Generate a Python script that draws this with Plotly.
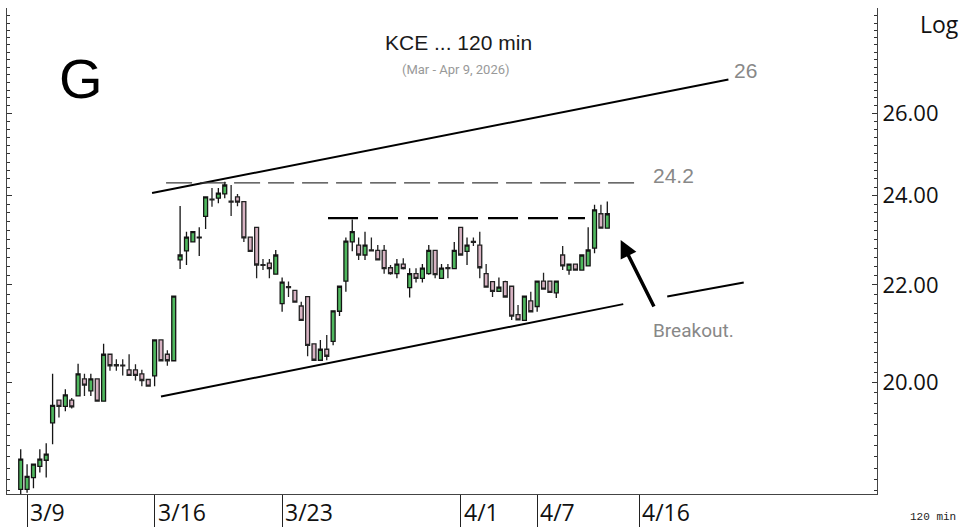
import plotly.graph_objects as go

# ---- data (bar index = 120-min bar number, Mar 6 last bar .. Apr 9) ----
bar_open = [18.02, 18.02, 18.23, 18.43, 18.54, 19.23, 19.66, 19.54, 19.66, 19.74,
            20.07, 19.84, 20.07, 19.64, 20.56, 20.35, 20.34, 20.25, 20.25, 20.17,
            20.06, 20.13, 20.85, 20.56, 20.43, 22.54, 22.74, 22.94, 23.03, 23.52,
            23.92, 23.94, 24.04, 23.87, 23.97, 23.86, 23.05, 23.27, 22.44, 22.47,
            22.23, 21.60, 21.96, 21.88, 21.55, 21.75, 20.77, 20.44, 20.66, 20.82,
            21.44, 22.08, 22.94, 22.87, 22.65, 22.76, 22.75, 22.75, 22.37, 22.24,
            22.45, 21.94, 22.24, 22.14, 22.24, 22.75, 22.14, 22.37, 22.35, 23.27,
            22.73, 22.95, 22.87, 22.24, 22.07, 21.86, 22.07, 21.97, 21.37, 21.25,
            21.66, 21.54, 22.08, 22.08, 21.83, 22.65, 22.32, 22.45, 22.32, 22.41,
            22.80, 23.58, 23.25]
bar_high = [18.74, 18.47, 18.48, 18.74, 18.85, 20.17, 19.66, 19.87, 19.70, 20.37,
            20.17, 20.17, 20.08, 20.77, 20.57, 20.46, 20.46, 20.56, 20.36, 20.25,
            20.07, 20.86, 20.86, 20.64, 21.77, 23.76, 23.17, 23.18, 23.27, 23.98,
            24.18, 24.18, 24.33, 24.25, 24.04, 23.87, 23.06, 23.28, 22.56, 22.56,
            22.76, 22.16, 22.07, 21.89, 21.64, 21.76, 20.78, 20.85, 20.95, 21.46,
            21.98, 23.04, 23.45, 23.04, 23.17, 23.04, 22.87, 22.87, 22.43, 22.56,
            22.58, 22.36, 22.36, 22.45, 22.87, 22.76, 22.45, 22.45, 22.94, 23.28,
            23.04, 23.04, 23.17, 22.45, 22.08, 22.16, 22.09, 21.98, 21.57, 21.77,
            21.85, 22.09, 22.26, 22.09, 22.09, 22.85, 22.46, 22.46, 22.66, 23.27,
            23.79, 23.79, 23.86]
bar_low = [17.92, 17.96, 18.04, 18.32, 18.23, 18.83, 19.33, 19.45, 19.50, 19.74,
           19.74, 19.74, 19.63, 19.63, 20.23, 20.23, 20.14, 20.13, 20.04, 19.93,
           19.92, 19.93, 20.42, 20.33, 20.42, 22.34, 22.43, 22.93, 22.63, 23.23,
           23.74, 23.82, 23.94, 23.53, 23.75, 22.94, 22.72, 22.14, 22.32, 22.14,
           22.22, 21.43, 21.74, 21.62, 21.24, 20.52, 20.43, 20.43, 20.44, 20.74,
           21.34, 21.85, 22.73, 22.54, 22.54, 22.73, 22.53, 22.24, 22.22, 22.14,
           22.33, 21.73, 22.05, 22.05, 22.22, 22.14, 22.13, 22.14, 22.34, 22.64,
           22.43, 22.85, 22.14, 21.94, 21.74, 21.85, 21.73, 21.26, 21.25, 21.24,
           21.42, 21.43, 21.90, 21.83, 21.72, 22.32, 22.22, 22.31, 22.31, 22.40,
           22.69, 23.24, 23.24]
bar_close = [18.56, 18.25, 18.47, 18.56, 18.65, 19.56, 19.54, 19.76, 19.53, 20.17,
             19.95, 20.07, 19.64, 20.56, 20.33, 20.33, 20.33, 20.14, 20.14, 20.04,
             19.93, 20.85, 20.43, 20.43, 21.76, 22.65, 23.05, 23.17, 23.05, 23.97,
             23.90, 24.06, 24.25, 23.85, 23.85, 23.03, 22.73, 22.43, 22.42, 22.35,
             22.65, 22.06, 21.94, 21.63, 21.25, 20.74, 20.44, 20.66, 20.52, 21.45,
             21.97, 22.96, 23.17, 22.65, 22.87, 22.74, 22.54, 22.35, 22.24, 22.45,
             22.35, 22.24, 22.14, 22.36, 22.75, 22.22, 22.36, 22.35, 22.75, 22.65,
             22.87, 22.93, 22.37, 21.95, 21.86, 21.95, 21.74, 21.34, 21.26, 21.76,
             21.43, 22.08, 21.91, 21.84, 22.08, 22.41, 22.45, 22.32, 22.65, 22.76,
             23.67, 23.25, 23.58]
bar_index = list(range(len(bar_close)))

date_tick_pos = [1, 21, 41, 69, 81, 97]
date_tick_text = ["3/9", "3/16", "3/23", "4/1", "4/7", "4/16"]

price_tick_vals = [20, 22, 24, 26]
price_tick_text = ["20.00", "22.00", "24.00", "26.00"]

# drawn trend lines (bar index, price)
upper_x, upper_y = [20.6, 111.0], [24.06, 26.88]
lower1_x, lower1_y = [22.0, 94.5], [19.73, 21.59]
lower2_x, lower2_y = [101.4, 113.4], [21.75, 22.05]
top_dash_x, top_dash_y = [22.8, 97.4], [24.3, 24.3]
res_dash_x, res_dash_y = [48.2, 88.5], [23.48, 23.48]

# ---- figure ----
L, R, T, B = 7, 82, 8, 33
W, H = 959, 527
PW, PH = W - L - R, H - T - B


def px(x):
    return (x - L) / PW


def py(y):
    return (H - B - y) / PH


fig = go.Figure()
fig.add_trace(go.Candlestick(
    x=bar_index, open=bar_open, high=bar_high, low=bar_low, close=bar_close,
    increasing=dict(fillcolor="#4fb85e", line=dict(color="#141414", width=1.3)),
    decreasing=dict(fillcolor="#d8b3c3", line=dict(color="#222222", width=1.3)),
    whiskerwidth=0, showlegend=False, hoverinfo="skip"))

for xs, ys, w, dash, col in [
    (upper_x, upper_y, 2, "solid", "#000000"),
    (lower1_x, lower1_y, 2, "solid", "#000000"),
    (lower2_x, lower2_y, 2, "solid", "#000000"),
    (top_dash_x, top_dash_y, 1.2, "26px,8px", "#3a3a3a"),
    (res_dash_x, res_dash_y, 2.2, "30px,10px", "#000000"),
]:
    fig.add_trace(go.Scatter(x=xs, y=ys, mode="lines",
                             line=dict(color=col, width=w, dash=dash),
                             showlegend=False, hoverinfo="skip"))

minor_vals = [round(18 + 0.2 * i, 1) for i in range(55)]
major_vals = list(range(18, 29))
major_text = [f"{v:.2f}" if v in price_tick_vals else "" for v in major_vals]

fig.update_layout(
    width=W, height=H,
    margin=dict(l=L, r=R, t=T, b=B, autoexpand=False),
    paper_bgcolor="white", plot_bgcolor="white",
    showlegend=False,
    boxgap=0.12,
    xaxis=dict(range=[-2.15, 134.3], showgrid=False, zeroline=False,
               showline=True, linecolor="#444", linewidth=1,
               tickmode="array", tickvals=date_tick_pos, ticks="outside",
               ticklen=34, tickcolor="#222", tickwidth=1,
               showticklabels=False, rangeslider=dict(visible=False),
               fixedrange=True, automargin=False),
    yaxis=dict(type="log", range=[1.25382, 1.45969], side="right",
               showgrid=False, zeroline=False, showline=True,
               linecolor="#444", linewidth=1, mirror="ticks",
               tickmode="array", tickvals=major_vals, ticktext=major_text,
               ticks="inside", ticklen=5, tickcolor="#333",
               tickfont=dict(family="Open Sans", size=22, color="#111"),
               minor=dict(tickmode="array", tickvals=minor_vals,
                          ticks="inside", ticklen=3, tickcolor="#333"),
               fixedrange=True, automargin=False),
)

ann = []
for v, t in zip(date_tick_pos, date_tick_text):
    ann.append(dict(x=v, y=py(512), xref="x", yref="paper", text=t,
                    showarrow=False, xanchor="left", yanchor="middle", xshift=1,
                    font=dict(family="Open Sans", size=23, color="#111")))

ann += [
    dict(x=px(81), y=py(78.5), text="G", font=dict(family="Liberation Sans", size=56, color="#000")),
    dict(x=px(458), y=py(42), text="KCE ... 120 min", font=dict(family="Liberation Sans", size=21, color="#1a1a1a")),
    dict(x=px(456), y=py(69), text="(Mar - Apr 9, 2026)", font=dict(family="Roboto", size=13, color="#999")),
    dict(x=px(745.5), y=py(70.5), text="26", font=dict(family="Liberation Sans", size=21, color="#888")),
    dict(x=px(673.5), y=py(175.5), text="24.2", font=dict(family="Liberation Sans", size=21, color="#888")),
    dict(x=px(693), y=py(330), text="Breakout.", font=dict(family="Roboto", size=19, color="#888")),
    dict(x=px(918), y=py(24), text="Log", xanchor="left", font=dict(family="Open Sans", size=23, color="#111")),
    dict(x=px(908), y=py(517), text="120 min", xanchor="left", font=dict(family="Liberation Mono", size=11, color="#222")),
]
for a in ann[len(date_tick_pos):]:
    a.setdefault("xref", "paper")
    a.setdefault("yref", "paper")
    a.setdefault("showarrow", False)
    a.setdefault("xanchor", "center")
    a.setdefault("yanchor", "middle")

ann.append(dict(x=px(620.7), y=py(240), xref="paper", yref="paper", text="",
                showarrow=True, ax=34, ay=68, arrowhead=2, arrowsize=1,
                arrowwidth=3.5, arrowcolor="#000"))

fig.update_layout(annotations=ann)
fig.write_html("out.html",
               config={"displayModeBar": False},
               post_script="document.body.style.margin='0';document.body.style.overflow='hidden';")
